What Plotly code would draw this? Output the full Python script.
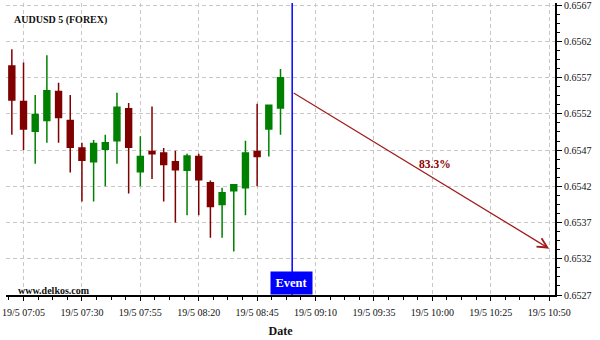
import plotly.graph_objects as go

times = ["2023-05-19 07:00", "2023-05-19 07:05", "2023-05-19 07:10", "2023-05-19 07:15",
         "2023-05-19 07:20", "2023-05-19 07:25", "2023-05-19 07:30", "2023-05-19 07:35",
         "2023-05-19 07:40", "2023-05-19 07:45", "2023-05-19 07:50", "2023-05-19 07:55",
         "2023-05-19 08:00", "2023-05-19 08:05", "2023-05-19 08:10", "2023-05-19 08:15",
         "2023-05-19 08:20", "2023-05-19 08:25", "2023-05-19 08:30", "2023-05-19 08:35",
         "2023-05-19 08:40", "2023-05-19 08:45", "2023-05-19 08:50", "2023-05-19 08:55"]
opens = [0.65586, 0.65537, 0.65496, 0.65511, 0.65551, 0.65511, 0.65473, 0.65454,
         0.65471, 0.65483, 0.65527, 0.65440, 0.65468, 0.65466, 0.65454, 0.65442,
         0.65461, 0.65425, 0.65395, 0.65414, 0.65418, 0.65468, 0.65499, 0.65528]
highs = [0.65609, 0.65591, 0.65546, 0.65601, 0.65563, 0.65546, 0.65480, 0.65484,
         0.65491, 0.65549, 0.65535, 0.65489, 0.65530, 0.65473, 0.65469, 0.65465,
         0.65465, 0.65428, 0.65418, 0.65423, 0.65483, 0.65534, 0.65532, 0.65582]
lows = [0.65491, 0.65470, 0.65451, 0.65480, 0.65480, 0.65439, 0.65399, 0.65399,
        0.65420, 0.65451, 0.65410, 0.65420, 0.65430, 0.65399, 0.65370, 0.65380,
        0.65380, 0.65349, 0.65349, 0.65330, 0.65380, 0.65420, 0.65461, 0.65491]
closes = [0.65539, 0.65499, 0.65519, 0.65552, 0.65515, 0.65474, 0.65456, 0.65479,
          0.65480, 0.65529, 0.65474, 0.65461, 0.65465, 0.65450, 0.65443, 0.65462,
          0.65429, 0.65392, 0.65411, 0.65422, 0.65466, 0.65461, 0.65532, 0.65570]

event_time = "2023-05-19 09:00"
arrow_start = 0.65550
arrow_end_time = "2023-05-19 10:50"
arrow_end = 0.65334
prob_label = "83.3%"
prob_pos = ("2023-05-19 10:01", 0.65451)

x_range = ["2023-05-19 06:57:30", "2023-05-19 10:52:30"]
y_range = [0.6527, 0.65673]

FONT = "Liberation Serif"
GREEN = "#008000"
RED = "#800000"

fig = go.Figure()
fig.add_trace(go.Candlestick(
    x=times, open=opens, high=highs, low=lows, close=closes,
    increasing=dict(line=dict(color=GREEN, width=1.5), fillcolor=GREEN),
    decreasing=dict(line=dict(color=RED, width=1.5), fillcolor=RED),
    whiskerwidth=0, showlegend=False, hoverinfo="skip",
))

fig.add_shape(type="line", xref="x", yref="paper", x0=event_time, x1=event_time,
              y0=0, y1=1, line=dict(color="#0000ff", width=1.5))

fig.add_annotation(x=arrow_end_time, y=arrow_end, ax=event_time, ay=arrow_start,
                   xref="x", yref="y", axref="x", ayref="y", text="",
                   showarrow=True, arrowhead=5, arrowsize=1.6, arrowwidth=1.2,
                   arrowcolor="#a01c1c")
fig.add_annotation(x=prob_pos[0], y=prob_pos[1], xref="x", yref="y",
                   text="<b>" + prob_label + "</b>", showarrow=False,
                   font=dict(family=FONT, size=11.5, color="#8b0000"))
fig.add_annotation(x=event_time, y=0, xref="x", yref="paper", yanchor="bottom",
                   text="<b>Event</b>", showarrow=False, bgcolor="#0000ff",
                   width=35, height=16, borderpad=3, xshift=-1,
                   font=dict(family=FONT, size=12.5, color="white"))
fig.add_annotation(x=0.0104, y=0.942, xref="paper", yref="paper",
                   xanchor="left", yanchor="middle", showarrow=False,
                   text="<b>AUDUSD 5 (FOREX)</b>",
                   font=dict(family=FONT, size=10, color="#111111"))
fig.add_annotation(x=0.018, y=0.017, xref="paper", yref="paper",
                   xanchor="left", yanchor="middle", showarrow=False,
                   text="<b>www.delkos.com</b>",
                   font=dict(family=FONT, size=10, color="#111111"))

grid = dict(showgrid=True, gridcolor="#c8c8c8", gridwidth=1, griddash="4px,3px")

fig.update_layout(
    width=600, height=340,
    margin=dict(l=6, r=45, t=3, b=45, autoexpand=False),
    paper_bgcolor="white", plot_bgcolor="white",
    boxgap=0.28,
    font=dict(family=FONT, size=10, color="#111111"),
    xaxis=dict(type="date", range=x_range, rangeslider=dict(visible=False),
               tick0="2023-05-19 07:05", dtick=1500000, tickformat="%-d/%-m %H:%M",
               ticks="outside", ticklen=4, tickcolor="black", ticklabelstandoff=3,
               showline=True, linecolor="black", linewidth=2, zeroline=False,
               automargin=False,
               minor=dict(dtick=375000, tick0="2023-05-19 07:05", ticklen=3,
                          tickcolor="black", showgrid=False),
               title=dict(text="<b>Date</b>", font=dict(family=FONT, size=12),
                          standoff=10),
               tickfont=dict(family=FONT, size=10), **grid),
    yaxis=dict(side="right", range=y_range, tick0=0.6527, dtick=0.0005,
               tickformat=".4f", ticks="outside", ticklen=5, tickcolor="black",
               ticklabeloverflow="allow", automargin=False,
               showline=True, linecolor="black", linewidth=2, zeroline=False,
               minor=dict(dtick=0.000125, tick0=0.6527, ticklen=3,
                          tickcolor="black", showgrid=False),
               tickfont=dict(family=FONT, size=10), **grid),
)

fig.write_html("out.html")
